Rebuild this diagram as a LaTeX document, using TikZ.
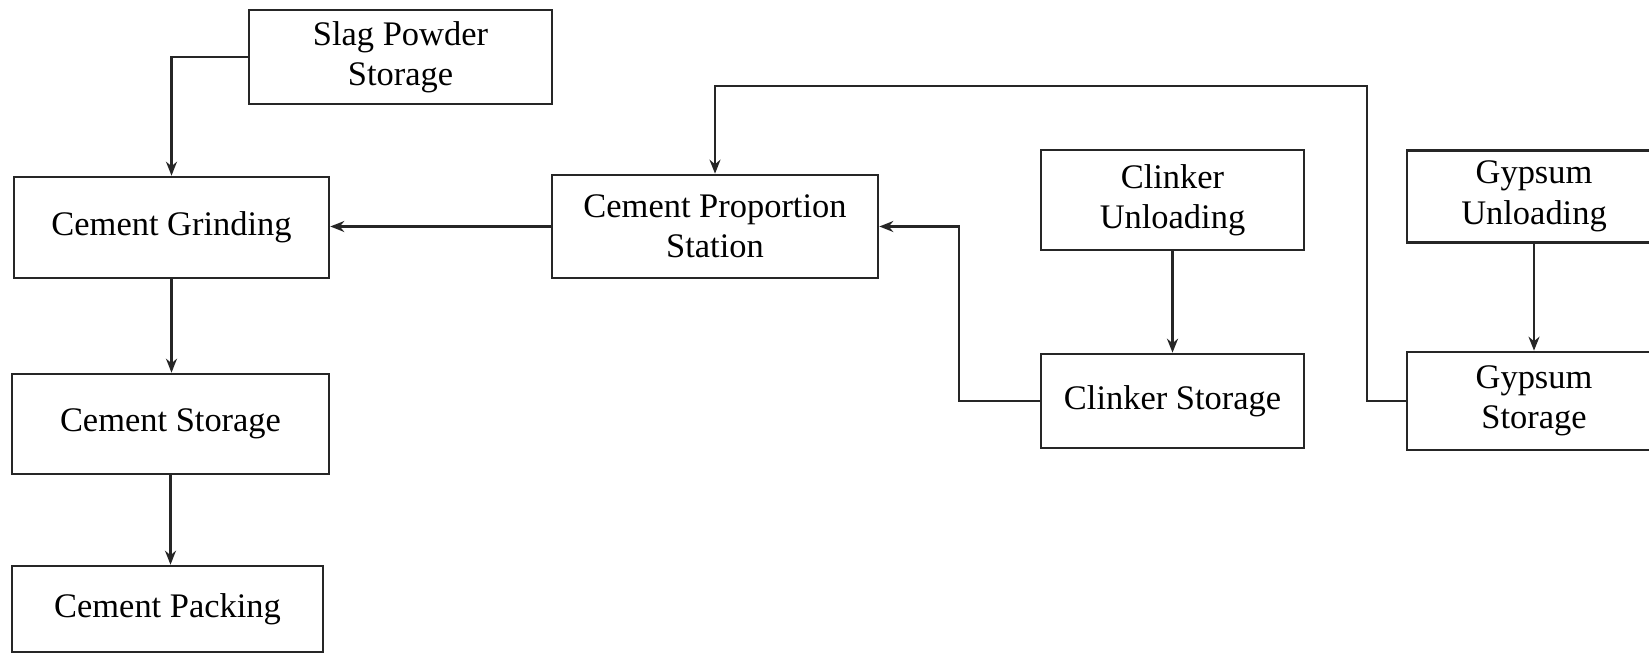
\documentclass[tikz,border=0pt]{standalone}
\usepackage{fontspec}
\setmainfont{Liberation Serif}
\usepackage{tikz}
\usetikzlibrary{arrows.meta}
\tikzset{
  unit/.style={draw=black!85, line width=0.75pt, rectangle, inner sep=0pt, align=center,
    font=\fontsize{9.8}{11.5}\selectfont},
  flow/.style={draw=black!85, line width=0.6pt, -{Stealth[length=1.4mm,width=1.1mm]}},
}

\begin{document}
\begin{tikzpicture}
  \useasboundingbox (0,0) rectangle (16.49,-6.53);
  \coordinate (kbend) at (9.59,-4.01);
  \coordinate (gbend) at (13.67,-0.86);

  \node[unit, minimum width=3.03cm, minimum height=0.94cm] (slag)  at (4.005,-0.57) {Slag Powder\\Storage};
  \node[unit, minimum width=3.15cm, minimum height=1.01cm] (grind) at (1.715,-2.275) {Cement Grinding};
  \node[unit, minimum width=3.17cm, minimum height=1.00cm] (cstore) at (1.705,-4.24) {Cement Storage};
  \node[unit, minimum width=3.11cm, minimum height=0.86cm] (pack)  at (1.675,-6.09) {Cement Packing};
  \node[unit, minimum width=3.26cm, minimum height=1.03cm] (prop)  at (7.15,-2.265) {Cement Proportion\\Station};
  \node[unit, minimum width=2.63cm, minimum height=1.00cm] (kunload) at (11.725,-2.00) {Clinker\\Unloading};
  \node[unit, minimum width=2.63cm, minimum height=0.94cm] (kstore)  at (11.725,-4.01) {Clinker Storage};
  \node[unit, minimum width=2.54cm, minimum height=0.92cm] (gunload) at (15.34,-1.965) {Gypsum\\Unloading};
  \node[unit, minimum width=2.54cm, minimum height=0.98cm] (gstore)  at (15.34,-4.01) {Gypsum\\Storage};

  \draw[flow] (slag.west) -| (grind.north);
  \draw[flow] (prop.west) -- (prop.west -| grind.east);
  \draw[flow] (grind.south) -- (grind.south |- cstore.north);
  \draw[flow] (cstore.south) -- (cstore.south |- pack.north);
  \draw[flow] (kunload) -- (kstore);
  \draw[flow] (gunload) -- (gstore);
  \draw[flow] (kstore.west) -- (kbend) |- (prop.east);
  \draw[flow] (gstore.west) -| (gbend) -| (prop.north);
\end{tikzpicture}
\end{document}
